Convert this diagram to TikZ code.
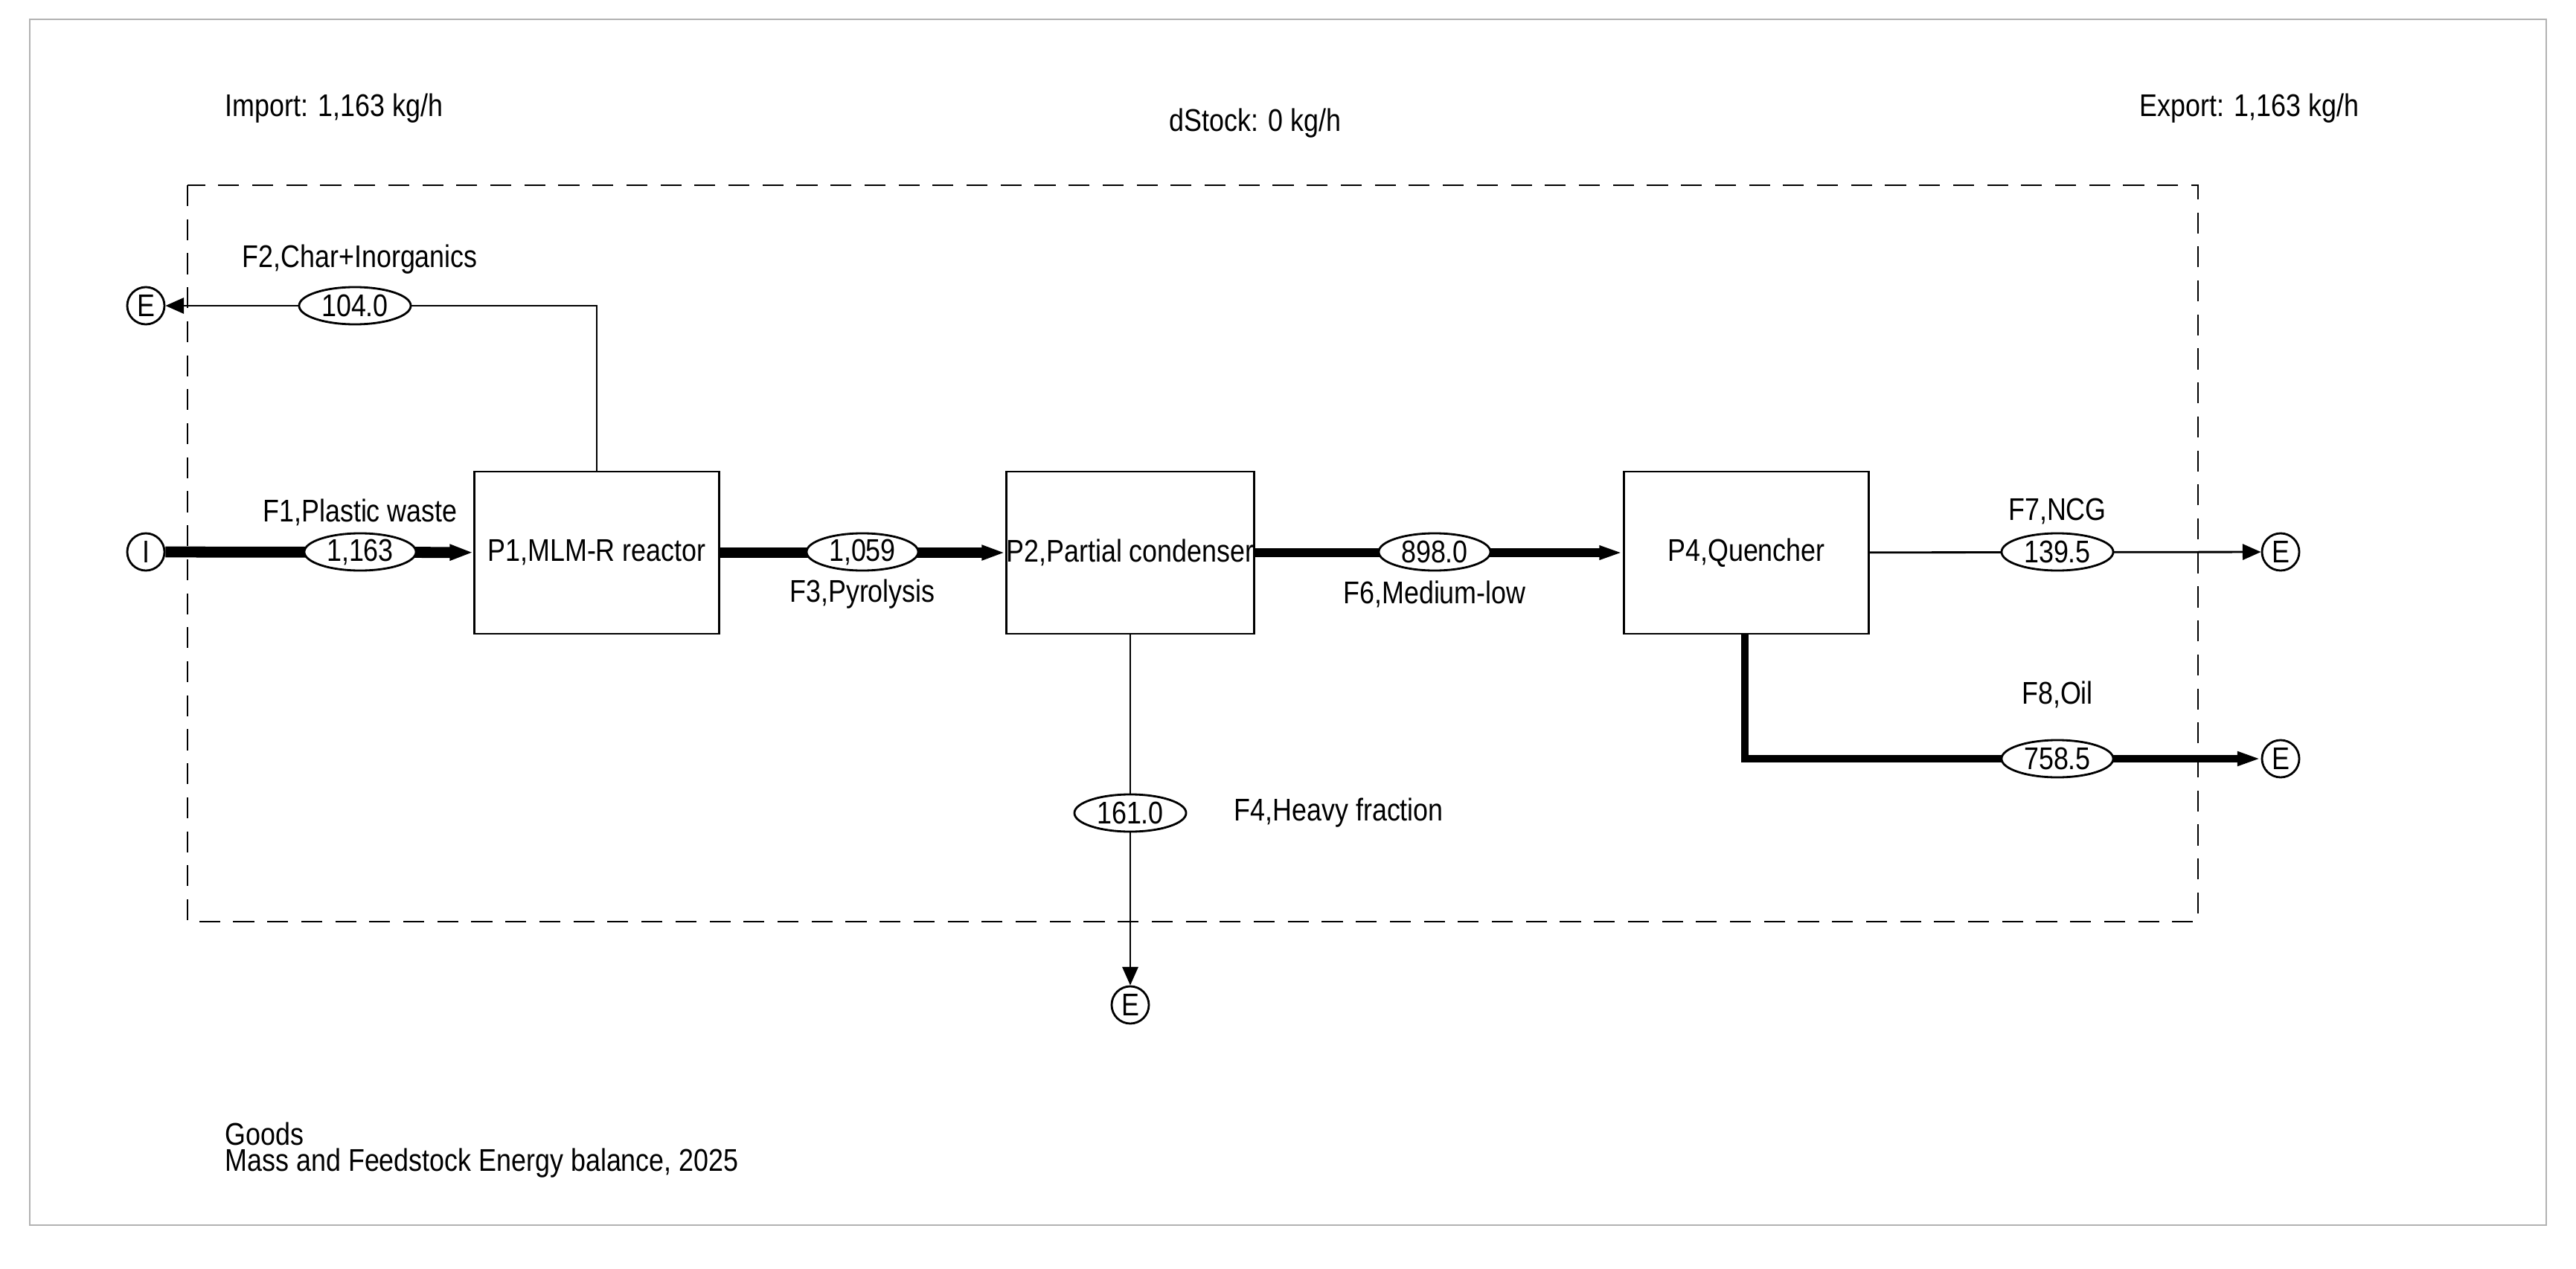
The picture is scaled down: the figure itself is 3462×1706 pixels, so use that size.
\documentclass[tikz,border=0pt]{standalone}
\usepackage{fontspec}
\setmainfont{Liberation Sans}[FakeStretch=0.85]
\usetikzlibrary{arrows.meta,shapes.geometric}
\begin{document}
\begin{tikzpicture}[x=0.01cm,y=-0.01cm,font=\fontsize{12}{13}\selectfont,
  proc/.style={draw,line width=0.8pt,minimum width=3.29cm,minimum height=2.18cm,inner sep=0pt},
  val/.style={draw,ellipse,fill=white,line width=0.8pt,minimum width=1.5cm,minimum height=0.5cm,inner sep=0pt},
  term/.style={draw,circle,line width=0.8pt,minimum size=0.5cm,inner sep=0pt},
  thin/.style={line width=0.8pt,-{Triangle[length=7pt,width=6pt]}},
  fat/.style={line width=#1,-{Triangle[length=9pt,width=#1+1.5pt]}},
  lbl/.style={inner sep=0pt}]
\useasboundingbox (0,0) rectangle (3462,1706);
\draw[gray!60,line width=0.8pt] (40,26) rectangle (3422,1647);
\draw[dashed,line width=0.8pt,dash pattern=on 8pt off 5pt] (252,249) rectangle (2954,1239);
\node[lbl,anchor=west] (imp) at (302,146) {Import: 1,163 kg/h};
\node[lbl] (dst) at (1687,166) {dStock: 0 kg/h};
\node[lbl,anchor=east] (exp) at (3171,146) {Export: 1,163 kg/h};
\node[lbl,anchor=west] (g1) at (302,1524) {Goods};
\node[lbl,anchor=west] (g2) at (302,1564) {Mass and Feedstock Energy balance, 2025};
% processes
\node[proc] (P1) at (802,743) {P1,MLM-R reactor};
\node[proc] (P2) at (1519,743) {P2,Partial condenser};
\node[proc] (P4) at (2347,743) {P4,Quencher};
% terminals
\node[term] (I) at (196,742) {I};
\node[term] (E2) at (196,411) {E};
\node[term] (E7) at (3065,742) {E};
\node[term] (E8) at (3065,1020) {E};
\node[term] (E4) at (1519,1351) {E};
\coordinate (c2) at (802,411);
\coordinate (c8) at (2345,1020);
% flows
\draw[fat=4.2pt] (I) -- (P1);
\draw[fat=3.8pt] (P1) -- (P2);
\draw[fat=3.4pt] (P2) -- (P4);
\draw[thin] (P4) -- (E7);
\draw[line width=3pt,-{Triangle[length=9pt,width=5pt]}] (P4.south -| c8) -- (c8) -- (E8);
\draw[thin] (P1.north) -- (c2) -- (E2);
\draw[thin] (P2) -- (E4);
% values
\node[val] (v1) at (484,742) {1,163};
\node[val] (v2) at (477,411) {104.0};
\node[val] (v3) at (1159,742) {1,059};
\node[val] (v6) at (1928,742) {898.0};
\node[val] (v7) at (2765,742) {139.5};
\node[val] (v8) at (2765,1020) {758.5};
\node[val] (v4) at (1519,1093) {161.0};
% labels
\node[lbl] (l1) at (484,689) {F1,Plastic waste};
\node[lbl,anchor=west] (l2) at (325,349) {F2,Char+Inorganics};
\node[lbl] (l3) at (1159,799) {F3,Pyrolysis};
\node[lbl] (l6) at (1928,799) {F6,Medium-low};
\node[lbl] (l7) at (2765,687) {F7,NCG};
\node[lbl] (l8) at (2765,934) {F8,Oil};
\node[lbl,anchor=west] (l4) at (1658,1093) {F4,Heavy fraction};
\end{tikzpicture}
\end{document}
